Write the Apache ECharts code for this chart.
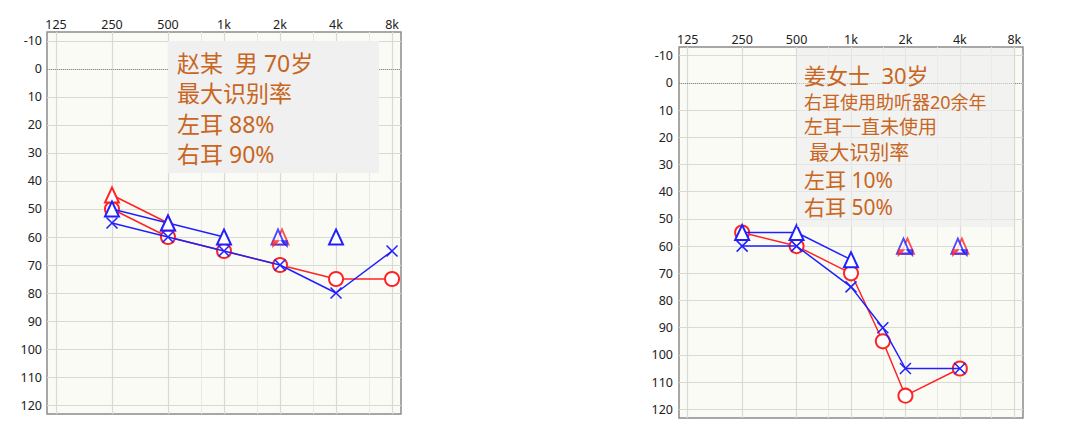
<!DOCTYPE html>
<html>
<head>
<meta charset="utf-8">
<script src="https://cdn.jsdelivr.net/npm/echarts@6/dist/echarts.min.js"></script>
<style>
  html, body { margin: 0; padding: 0; background: #fff; }
  #chart { width: 1080px; height: 430px; }
</style>
</head>
<body>
<div id="chart"></div>
<script>
// 频率刻度
var freqTicks = [125, 250, 500, 1000, 2000, 4000, 8000];
var freqLabels = ['125', '250', '500', '1k', '2k', '4k', '8k'];
var halfOctaves = [750, 1500, 3000, 6000];
var dbTicks = [-10, 0, 10, 20, 30, 40, 50, 60, 70, 80, 90, 100, 110, 120];

// 左图 赵某
var zFreq = [250, 500, 1000, 2000, 4000, 8000];
var zRightAC = [50, 60, 65, 70, 75, 75];      // 红 O
var zLeftAC = [55, 60, 65, 70, 80, 65];       // 蓝 X
var zRightBCFreq = [250, 500];
var zRightBC = [45, 55];                      // 红 △
var zLeftBCFreq = [250, 500, 1000, 2000, 4000];
var zLeftBC = [50, 55, 60, '-', 60];          // 蓝 △
var zNoRespFreq = [2000];
var zNoResp = [60];

// 右图 姜女士
var jFreq = [250, 500, 1000, 1500, 2000, 4000];
var jRightAC = [55, 60, 70, 95, 115, 105];
var jLeftAC = [60, 60, 75, 90, 105, 105];
var jLeftBCFreq = [250, 500, 1000];
var jLeftBC = [55, 55, 65];
var jNoRespFreq = [2000, 4000];
var jNoResp = [60, 60];

var RED = '#ff2424';
var BLUE = '#2020ff';
var TXT = '#c8661f';
var CJK = '"Noto Sans", "Noto Sans CJK SC", sans-serif';

function oct(f) { return Math.log2(f / 125); }
function pts(freqs, vals) {
  return freqs.map(function (f, i) { return [oct(f), vals[i]]; });
}

var xMin = -0.16, xMax = 6.16, yMin = -13.2, yMax = 123.2;
var octTicks = freqTicks.map(oct);
var halfTicks = halfOctaves.map(oct);

function mainX(gi) {
  return {
    gridIndex: gi, type: 'value', position: 'top', min: xMin, max: xMax,
    axisLine: { show: false },
    axisTick: { show: false, customValues: octTicks },
    axisLabel: {
      customValues: octTicks, margin: 1, color: '#222', fontSize: 12.5,
      fontFamily: 'Noto Sans',
      formatter: function (v) { return freqLabels[Math.round(v)]; }
    },
    splitLine: { show: true, lineStyle: { color: '#dadad4', width: 1.2 } }
  };
}
function minorX(gi) {
  return {
    gridIndex: gi, type: 'value', position: 'bottom', min: xMin, max: xMax,
    axisLine: { show: false },
    axisTick: { show: false, customValues: halfTicks },
    axisLabel: { show: false, customValues: halfTicks },
    splitLine: { show: true, lineStyle: { color: '#e8e8e3', width: 1 } }
  };
}
function yAx(gi, m) {
  return {
    gridIndex: gi, type: 'value', inverse: true, min: yMin, max: yMax,
    axisLine: { show: false },
    axisTick: { show: false, customValues: dbTicks },
    axisLabel: { customValues: dbTicks, margin: m, color: '#222', fontSize: 12.5, fontFamily: 'Noto Sans' },
    splitLine: { show: true, lineStyle: { color: '#dadad4', width: 1.2 } }
  };
}

var xSym = 'path://M0,0L10,10M10,0L0,10';

function acO(gi, data) {
  return {
    type: 'line', xAxisIndex: gi * 2, yAxisIndex: gi, data: data,
    symbol: 'emptyCircle', symbolSize: 14, z: 3,
    lineStyle: { color: RED, width: 1.5 },
    itemStyle: { color: RED, borderColor: RED, borderWidth: 1.5 }
  };
}
function acX(gi, data) {
  return {
    type: 'line', xAxisIndex: gi * 2, yAxisIndex: gi, data: data,
    symbol: xSym, symbolSize: 11, z: 5,
    lineStyle: { color: BLUE, width: 1.5 },
    itemStyle: { color: 'none', borderColor: BLUE, borderWidth: 1.5 }
  };
}
function bcTri(gi, data, color) {
  return {
    type: 'line', xAxisIndex: gi * 2, yAxisIndex: gi, data: data,
    symbol: 'emptyTriangle', symbolSize: [14, 15], z: 4,
    connectNulls: false,
    lineStyle: { color: color, width: 1.5 },
    itemStyle: { color: color, borderColor: color, borderWidth: 1.5 }
  };
}
// 无反应标记：三角加小箭头
function noResp(gi, data) {
  function s(o) {
    return Object.assign({ type: 'scatter', xAxisIndex: gi * 2, yAxisIndex: gi, data: data, z: 6 }, o);
  }
  return [
    s({ symbol: 'emptyTriangle', symbolSize: [13, 15], symbolOffset: [2, 0],
        itemStyle: { color: RED, borderColor: RED, borderWidth: 1.5 } }),
    s({ symbol: 'path://M0,0L10,0L0,10Z', symbolSize: 7, symbolOffset: [-4, 7], z: 8,
        itemStyle: { color: RED, borderColor: RED, borderWidth: 0.5 } }),
    s({ symbol: 'emptyTriangle', symbolSize: [13, 15], symbolOffset: [-2, 0], z: 7,
        itemStyle: { color: BLUE, borderColor: BLUE, borderWidth: 1.5 } }),
    s({ symbol: 'path://M0,0L10,0L10,10Z', symbolSize: 7, symbolOffset: [4, 7], z: 8,
        itemStyle: { color: BLUE, borderColor: BLUE, borderWidth: 0.5 } })
  ];
}
function zeroLine(gi) {
  return {
    type: 'line', xAxisIndex: gi * 2, yAxisIndex: gi, data: [], z: 1,
    markLine: {
      silent: true, symbol: 'none', animation: false,
      label: { show: false },
      lineStyle: { color: '#8a8a8a', type: 'dotted', width: 1 },
      data: [{ yAxis: 0 }]
    }
  };
}

var myChart = echarts.init(document.getElementById('chart'), null, { renderer: 'svg' });

var option = {
  backgroundColor: '#fff',
  animation: false,
  grid: [
    { left: 47, top: 32, width: 354, height: 382, show: true, backgroundColor: '#fbfbf6', borderColor: '#8c8c8c', borderWidth: 1.5 },
    { left: 679, top: 47, width: 344, height: 371, show: true, backgroundColor: '#fbfbf6', borderColor: '#8c8c8c', borderWidth: 1.5 }
  ],
  xAxis: [mainX(0), minorX(0), mainX(1), minorX(1)],
  yAxis: [yAx(0, 5), yAx(1, 6)],
  series: [
    zeroLine(0),
    acO(0, pts(zFreq, zRightAC)),
    bcTri(0, pts(zRightBCFreq, zRightBC), RED),
    bcTri(0, pts(zLeftBCFreq, zLeftBC), BLUE),
    acX(0, pts(zFreq, zLeftAC)),
    zeroLine(1),
    acO(1, pts(jFreq, jRightAC)),
    bcTri(1, pts(jLeftBCFreq, jLeftBC), BLUE),
    acX(1, pts(jFreq, jLeftAC))
  ].concat(noResp(0, pts(zNoRespFreq, zNoResp)), noResp(1, pts(jNoRespFreq, jNoResp))),
  graphic: [
    { type: 'rect', z: 100, shape: { x: 168, y: 41, width: 211, height: 132 }, style: { fill: '#f0f0f0' } },
    { type: 'rect', z: 100, shape: { x: 797, y: 48, width: 217, height: 179 }, style: { fill: 'rgba(236,236,236,0.6)' } },
    {
      type: 'text', x: 177, y: 48, z: 101,
      style: {
        text: '赵某  男 70岁\n最大识别率\n左耳 88%\n右耳 90%',
        fill: TXT, fontSize: 23, lineHeight: 30.3, fontFamily: CJK
      }
    },
    {
      type: 'text', x: 804, y: 61, z: 101,
      style: {
        text: '{a|姜女士  30岁}\n{b|右耳使用助听器20余年}\n{c|左耳一直未使用}\n{d| 最大识别率}\n{e|左耳 10%}\n{e|右耳 50%}',
        fill: TXT, fontFamily: CJK,
        rich: {
          a: { fontSize: 22, lineHeight: 28.5, fill: TXT, fontFamily: CJK },
          b: { fontSize: 18, lineHeight: 24.5, fill: TXT, fontFamily: CJK },
          c: { fontSize: 19, lineHeight: 25, fill: TXT, fontFamily: CJK },
          d: { fontSize: 20, lineHeight: 27, fill: TXT, fontFamily: CJK },
          e: { fontSize: 21, lineHeight: 27.5, fill: TXT, fontFamily: CJK }
        }
      }
    }
  ]
};

option && myChart.setOption(option);
</script>
</body>
</html>
